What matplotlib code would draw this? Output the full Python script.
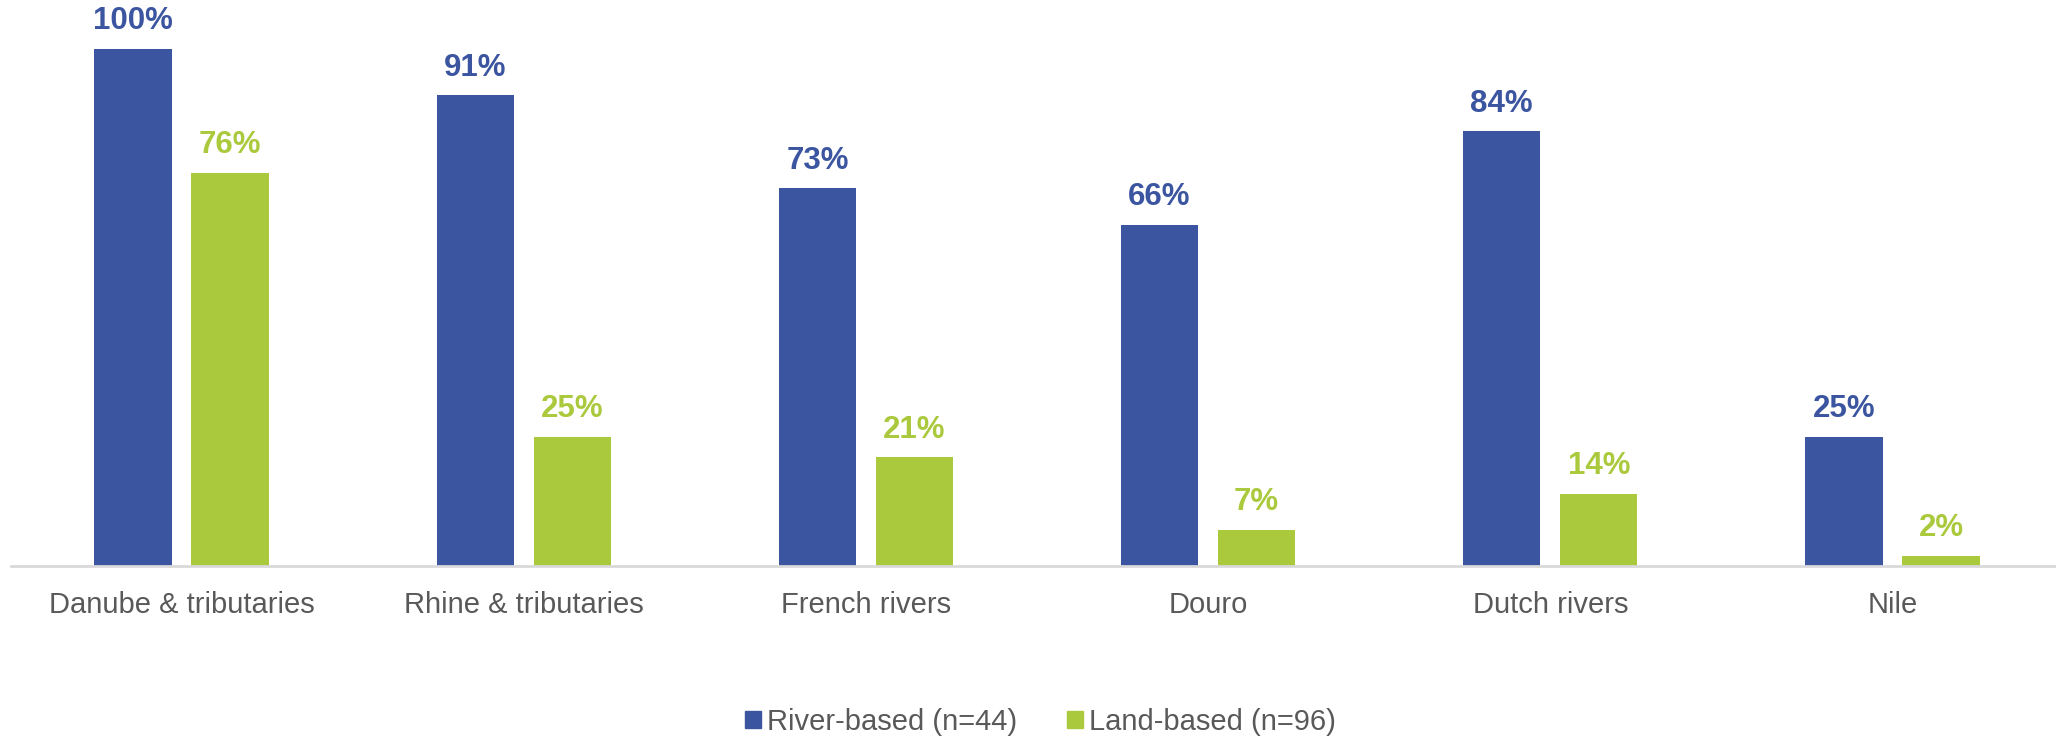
import matplotlib
matplotlib.use("Agg")
import matplotlib.pyplot as plt
import numpy as np
from matplotlib.patches import Patch

plt.rcParams['font.family'] = ['Liberation Sans', 'DejaVu Sans']

categories = ["Danube & tributaries", "Rhine & tributaries", "French rivers",
              "Douro", "Dutch rivers", "Nile"]
river_based = [100, 91, 73, 66, 84, 25]
land_based = [76, 25, 21, 7, 14, 2]
series_names = ["River-based (n=44)", "Land-based (n=96)"]

blue = "#3B55A0"
green = "#ABC93C"
label_gray = "#595959"

fig = plt.figure(figsize=(20.56, 7.38), dpi=100)
ax = fig.add_axes([10.5 / 2056, 0.233, (2056 - 10.5) / 2056, 0.767])

x = np.arange(len(categories))
width = 0.226
offset = 0.1418

b1 = ax.bar(x - offset, river_based, width, color=blue)
b2 = ax.bar(x + offset, land_based, width, color=green)

for bars, vals, col in ((b1, river_based, blue), (b2, land_based, green)):
    for rect, v in zip(bars, vals):
        ax.annotate(f"{v}%", (rect.get_x() + rect.get_width() / 2, v),
                    xytext=(0, 9), textcoords="offset points",
                    ha="center", va="bottom", fontsize=22.5,
                    fontweight="bold", color=col)

ax.set_xlim(-0.5, 5.478)
ax.set_ylim(0, 109.4)
ax.set_xticks(x)
ax.set_xticklabels(categories, fontsize=21, color=label_gray)
ax.tick_params(axis="x", length=0, pad=18)
ax.set_yticks([])
for side in ("top", "right", "left"):
    ax.spines[side].set_visible(False)
ax.spines["bottom"].set_color("#D9D9D9")
ax.spines["bottom"].set_linewidth(2)

handles = [Patch(color=blue), Patch(color=green)]
fig.legend(handles, series_names, loc="center", bbox_to_anchor=(0.506, 0.0217),
           ncol=2, frameon=False, fontsize=21, labelcolor=label_gray,
           handlelength=0.55, handleheight=0.55, handletextpad=0.2,
           columnspacing=1.7)

fig.savefig("out.png", dpi=100)
